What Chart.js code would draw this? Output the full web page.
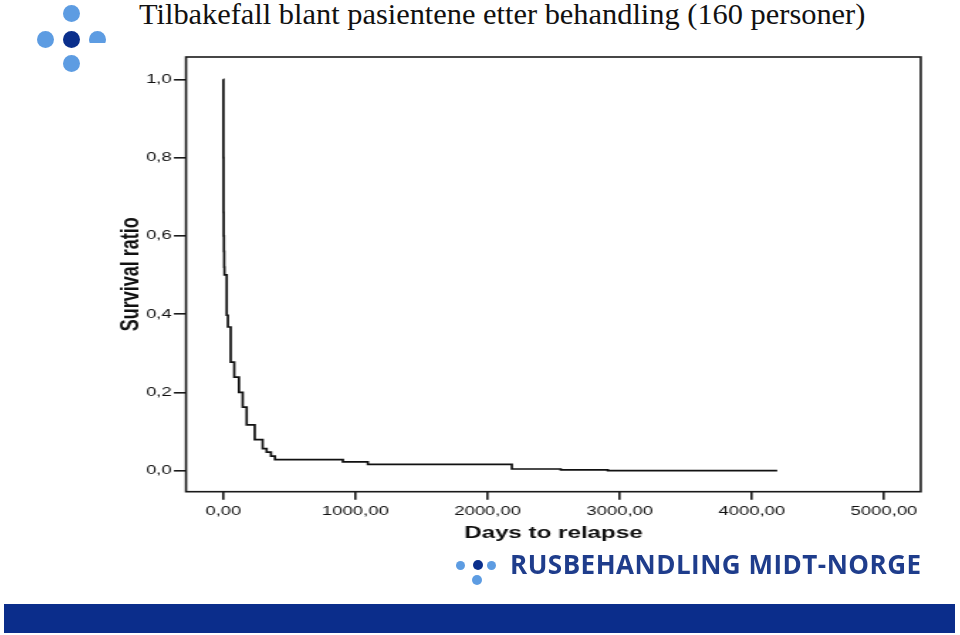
<!DOCTYPE html>
<html>
<head>
<meta charset="utf-8">
<script src="https://cdn.jsdelivr.net/npm/chart.js"></script>
<style>
  body { margin: 0; background: #fff; }
  #page { position: relative; width: 960px; height: 635px; overflow: hidden; background: #fff; }
  #wrap { position: absolute; left: 100px; top: 0; width: 590px; height: 635px; transform: scaleX(1.42); transform-origin: 0 0; }
  .dot { position: absolute; border-radius: 50%; }
  .light { background: #5d9ce2; }
  .dark { background: #0a2f8c; }
  #title { position: absolute; left: 139px; top: -1px; font: 30.4px 'Liberation Serif', serif; line-height: 30px; color: #111; white-space: nowrap; }
  #brand { position: absolute; left: 510px; top: 551.2px; font: bold 26px 'Open Sans', sans-serif; line-height: 26px; letter-spacing: 0.5px; color: #1f3d8c; white-space: nowrap; }
  #band { position: absolute; left: 4px; top: 604px; width: 951px; height: 29px; background: #0b2d8b; }
</style>
</head>
<body>
<div id="page">
  <div class="dot light" style="left:63px;top:5px;width:17px;height:17px"></div>
  <div class="dot light" style="left:37px;top:31px;width:17px;height:17px"></div>
  <div class="dot dark" style="left:63px;top:31px;width:17px;height:17px"></div>
  <div style="position:absolute;left:89px;top:31px;width:17px;height:12px;overflow:hidden"><div class="dot light" style="left:0;top:0;width:17px;height:17px"></div></div>
  <div class="dot light" style="left:63px;top:55px;width:17px;height:17px"></div>

  <div id="title">Tilbakefall blant pasientene etter behandling (160 personer)</div>

  <div id="wrap"><canvas id="chart" width="590" height="635"></canvas></div>

  <div class="dot light" style="left:455.5px;top:560.5px;width:9px;height:9px"></div>
  <div class="dot dark" style="left:472.5px;top:560px;width:10px;height:10px"></div>
  <div class="dot light" style="left:486.5px;top:560.5px;width:9px;height:9px"></div>
  <div class="dot light" style="left:472px;top:575px;width:10px;height:10px"></div>
  <div id="brand">RUSBEHANDLING MIDT-NORGE</div>

  <div id="band"></div>
</div>
<script>
const days = [0, 1, 2, 3, 5, 7, 9, 26, 35, 56, 83, 119, 147, 177, 238, 298, 328, 361, 391, 905, 1094, 2184, 2554, 2910, 4192];
const survival = [1.0, 0.80, 0.66, 0.60, 0.56, 0.52, 0.50, 0.397, 0.367, 0.277, 0.239, 0.200, 0.162, 0.117, 0.079, 0.056, 0.047, 0.037, 0.028, 0.022, 0.016, 0.004, 0.002, 0.0, 0.0];
const xTicks = [0, 1000, 2000, 3000, 4000, 5000];
const xTickLabels = ['0,00', '1000,00', '2000,00', '3000,00', '4000,00', '5000,00'];
const yTicks = [0, 0.2, 0.4, 0.6, 0.8, 1.0];
const yTickLabels = ['0,0', '0,2', '0,4', '0,6', '0,8', '1,0'];

// frame round the plot area
const boxPlugin = {
  id: 'box',
  afterDraw(chart) {
    const {ctx, chartArea: a} = chart;
    ctx.save();
    ctx.strokeStyle = '#1a1a1a';
    ctx.lineWidth = 1.6;
    ctx.strokeRect(a.left, a.top, a.right - a.left, a.bottom - a.top);
    ctx.restore();
  }
};

const sans = "'Liberation Sans', Arial, sans-serif";
const tickFont = { family: sans, size: 13 };

new Chart(document.getElementById('chart'), {
  type: 'line',
  data: {
    datasets: [{
      label: 'Survival',
      data: days.map((d, i) => ({ x: d, y: survival[i] })),
      stepped: true,
      borderColor: '#111',
      borderWidth: 1.7,
      pointRadius: 0,
      fill: false
    }]
  },
  options: {
    responsive: false,
    animation: false,
    layout: { padding: { left: 0, right: 12.04, top: 57, bottom: 73.3 } },
    plugins: { legend: { display: false }, tooltip: { enabled: false } },
    scales: {
      x: {
        type: 'linear',
        min: -282,
        max: 5278,
        afterBuildTicks: s => { s.ticks = xTicks.map(v => ({ value: v })); },
        afterFit: s => { s.height = 70; },
        ticks: {
          callback: v => xTickLabels[xTicks.indexOf(v)],
          font: tickFont,
          color: '#111',
          padding: 3.5,
          maxRotation: 0
        },
        grid: { drawOnChartArea: false, drawTicks: true, tickLength: 8, color: '#1a1a1a', lineWidth: 1.6 },
        border: { display: false },
        title: {
          display: true,
          text: 'Days to relapse',
          color: '#111',
          font: { family: sans, size: 17, weight: 'bold' },
          padding: { top: 0, bottom: 18.5 }
        }
      },
      y: {
        type: 'linear',
        min: -0.054,
        max: 1.057,
        afterBuildTicks: s => { s.ticks = yTicks.map(v => ({ value: v })); },
        afterFit: s => { s.width = 60.56; },
        ticks: {
          callback: v => yTickLabels[yTicks.indexOf(v)],
          font: tickFont,
          color: '#111',
          padding: 1.6
        },
        grid: { drawOnChartArea: false, drawTicks: true, tickLength: 8.5, color: '#1a1a1a', lineWidth: 1.6 },
        border: { display: false },
        title: {
          display: true,
          text: 'Survival ratio',
          color: '#111',
          font: { family: sans, size: 18, weight: 'bold' },
          padding: { top: 11.45, bottom: 0 }
        }
      }
    }
  },
  plugins: [boxPlugin]
});
</script>
</body>
</html>
